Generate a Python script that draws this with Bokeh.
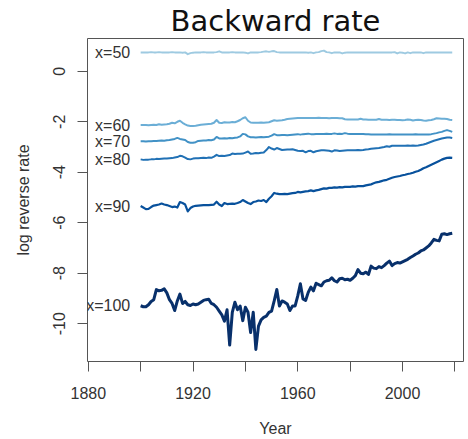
from bokeh.plotting import figure
from bokeh.models import Range1d, FixedTicker, Label
from bokeh.embed import file_html
from bokeh.resources import INLINE

# Calendar years of the series
years = list(range(1900, 2020))

# Log reverse (backward) rate by age x
rate_x50 = [
    0.75, 0.75, 0.75, 0.75, 0.76, 0.75, 0.75, 0.76, 0.75, 0.75,
    0.75, 0.75, 0.76, 0.75, 0.75, 0.75, 0.74, 0.75, 0.68, 0.72,
    0.74, 0.75, 0.75, 0.75, 0.76, 0.75, 0.75, 0.75, 0.75, 0.76,
    0.79, 0.75, 0.75, 0.75, 0.75, 0.76, 0.75, 0.75, 0.75, 0.75,
    0.74, 0.71, 0.75, 0.75, 0.75, 0.75, 0.76, 0.78, 0.79, 0.77,
    0.79, 0.80, 0.76, 0.75, 0.75, 0.75, 0.75, 0.75, 0.75, 0.75,
    0.75, 0.75, 0.75, 0.75, 0.74, 0.75, 0.72, 0.75, 0.76, 0.80,
    0.82, 0.76, 0.75, 0.72, 0.75, 0.75, 0.75, 0.71, 0.74, 0.75,
    0.75, 0.75, 0.75, 0.75, 0.75, 0.75, 0.75, 0.75, 0.75, 0.75,
    0.75, 0.75, 0.75, 0.75, 0.75, 0.75, 0.75, 0.76, 0.71, 0.75,
    0.74, 0.71, 0.75, 0.72, 0.75, 0.75, 0.75, 0.75, 0.72, 0.75,
    0.75, 0.75, 0.75, 0.75, 0.75, 0.75, 0.75, 0.75, 0.75, 0.75,
]
rate_x60 = [
    -2.13, -2.13, -2.13, -2.14, -2.13, -2.12, -2.13, -2.10, -2.12, -2.11,
    -2.10, -2.08, -2.04, -2.06, -2.00, -1.96, -2.04, -2.10, -2.15, -2.17,
    -2.17, -2.16, -2.14, -2.12, -2.11, -2.10, -2.09, -2.08, -2.04, -1.93,
    -2.04, -2.05, -2.02, -2.03, -2.03, -2.01, -2.02, -1.98, -1.93, -1.86,
    -1.82, -1.96, -2.03, -2.04, -2.04, -2.04, -2.03, -2.04, -2.03, -2.02,
    -1.98, -1.94, -1.96, -1.95, -1.94, -1.92, -1.89, -1.88, -1.87, -1.86,
    -1.85, -1.85, -1.85, -1.85, -1.85, -1.85, -1.85, -1.85, -1.84, -1.85,
    -1.85, -1.85, -1.86, -1.85, -1.85, -1.85, -1.86, -1.86, -1.90, -1.91,
    -1.91, -1.91, -1.91, -1.91, -1.88, -1.91, -1.91, -1.92, -1.92, -1.92,
    -1.92, -1.89, -1.92, -1.92, -1.92, -1.93, -1.92, -1.92, -1.93, -1.93,
    -1.94, -1.93, -1.91, -1.92, -1.95, -1.93, -1.92, -1.93, -1.95, -1.96,
    -1.94, -1.93, -1.90, -1.86, -1.87, -1.88, -1.88, -1.89, -1.92, -1.93,
]
rate_x70 = [
    -2.77, -2.77, -2.78, -2.77, -2.77, -2.76, -2.76, -2.75, -2.74, -2.75,
    -2.73, -2.72, -2.70, -2.68, -2.64, -2.68, -2.70, -2.72, -2.80, -2.83,
    -2.83, -2.81, -2.76, -2.75, -2.74, -2.74, -2.72, -2.73, -2.70, -2.60,
    -2.66, -2.66, -2.65, -2.66, -2.64, -2.65, -2.63, -2.62, -2.58, -2.48,
    -2.50, -2.58, -2.61, -2.61, -2.62, -2.61, -2.60, -2.61, -2.60, -2.59,
    -2.55, -2.49, -2.53, -2.53, -2.52, -2.52, -2.53, -2.52, -2.51, -2.50,
    -2.49, -2.51, -2.49, -2.48, -2.47, -2.49, -2.49, -2.48, -2.48, -2.48,
    -2.48, -2.47, -2.48, -2.48, -2.46, -2.48, -2.47, -2.48, -2.45, -2.47,
    -2.48, -2.48, -2.48, -2.48, -2.48, -2.48, -2.49, -2.49, -2.50, -2.50,
    -2.50, -2.50, -2.50, -2.50, -2.50, -2.49, -2.50, -2.50, -2.50, -2.50,
    -2.50, -2.50, -2.50, -2.50, -2.50, -2.49, -2.50, -2.50, -2.50, -2.50,
    -2.50, -2.49, -2.47, -2.45, -2.42, -2.40, -2.36, -2.33, -2.36, -2.40,
]
rate_x80 = [
    -3.49, -3.51, -3.50, -3.50, -3.49, -3.49, -3.47, -3.48, -3.47, -3.46,
    -3.46, -3.45, -3.44, -3.42, -3.40, -3.35, -3.37, -3.42, -3.48, -3.49,
    -3.46, -3.45, -3.45, -3.44, -3.43, -3.44, -3.42, -3.43, -3.38, -3.31,
    -3.36, -3.35, -3.36, -3.34, -3.32, -3.26, -3.28, -3.27, -3.27, -3.26,
    -3.22, -3.18, -3.27, -3.26, -3.24, -3.25, -3.23, -3.22, -3.12, -3.00,
    -3.06, -3.10, -3.04, -3.08, -3.12, -3.11, -3.10, -3.10, -3.09, -3.12,
    -3.15, -3.16, -3.15, -3.21, -3.16, -3.15, -3.21, -3.17, -3.15, -3.13,
    -3.13, -3.14, -3.15, -3.18, -3.13, -3.14, -3.16, -3.15, -3.14, -3.13,
    -3.13, -3.13, -3.13, -3.12, -3.13, -3.12, -3.10, -3.09, -3.07, -3.06,
    -3.05, -3.04, -3.02, -3.00, -2.97, -2.99, -2.95, -2.95, -2.95, -2.95,
    -2.95, -2.95, -2.94, -2.95, -2.94, -2.95, -2.94, -2.92, -2.90, -2.87,
    -2.83, -2.79, -2.75, -2.72, -2.69, -2.66, -2.64, -2.62, -2.62, -2.64,
]
rate_x90 = [
    -5.34, -5.40, -5.46, -5.45, -5.38, -5.32, -5.30, -5.28, -5.24, -5.28,
    -5.30, -5.34, -5.38, -5.36, -5.40, -5.18, -5.22, -5.28, -5.55, -5.42,
    -5.36, -5.33, -5.32, -5.31, -5.30, -5.30, -5.30, -5.29, -5.28, -5.17,
    -5.28, -5.34, -5.22, -5.26, -5.25, -5.24, -5.25, -5.22, -5.18, -5.10,
    -5.16, -5.22, -5.26, -5.18, -5.16, -5.12, -5.14, -5.10, -5.18, -5.05,
    -4.95, -4.82, -4.85, -4.87, -4.87, -4.86, -4.87, -4.85, -4.83, -4.82,
    -4.78, -4.80, -4.78, -4.76, -4.75, -4.72, -4.75, -4.72, -4.70, -4.67,
    -4.64, -4.65, -4.62, -4.62, -4.60, -4.61, -4.59, -4.60, -4.58, -4.58,
    -4.58, -4.56, -4.57, -4.55, -4.55, -4.55, -4.52, -4.50, -4.48, -4.44,
    -4.40, -4.38, -4.35, -4.32, -4.30, -4.26, -4.22, -4.19, -4.17, -4.15,
    -4.12, -4.10, -4.07, -4.05, -4.02, -3.98, -3.95, -3.90, -3.84, -3.80,
    -3.75, -3.70, -3.65, -3.60, -3.55, -3.50, -3.46, -3.43, -3.42, -3.43,
]
rate_x100 = [
    -9.29, -9.33, -9.33, -9.25, -9.12, -9.05, -8.65, -8.70, -8.68, -8.62,
    -8.78, -9.05, -9.20, -9.48, -9.10, -8.83, -9.20, -9.12, -9.25, -9.28,
    -9.22, -9.25, -9.22, -9.15, -9.08, -9.05, -9.03, -9.20, -9.25, -9.35,
    -9.50, -9.65, -9.90, -9.45, -10.85, -9.55, -9.15, -9.45, -9.30, -9.88,
    -9.35, -9.55, -10.35, -9.55, -11.02, -10.10, -9.85, -9.75, -9.70, -9.55,
    -9.50, -9.10, -8.65, -9.30, -9.10, -9.15, -9.22, -9.48, -9.30, -9.30,
    -8.90, -8.42, -9.02, -9.08, -8.76, -8.55, -8.70, -8.40, -8.45, -8.50,
    -8.35, -8.30, -8.28, -8.18, -8.30, -8.35, -8.22, -8.20, -8.26, -8.24,
    -8.28, -8.20, -8.10, -7.86, -8.00, -8.02, -7.96, -8.05, -7.72, -7.80,
    -7.82, -7.74, -7.78, -7.70, -7.60, -7.52, -7.70, -7.62, -7.58, -7.60,
    -7.55, -7.50, -7.45, -7.38, -7.32, -7.25, -7.20, -7.12, -7.08, -7.00,
    -6.92, -6.80, -6.66, -6.70, -6.72, -6.46, -6.44, -6.47, -6.44, -6.42,
]

series_labels = ["x=50", "x=60", "x=70", "x=80", "x=90", "x=100"]
series_values = [rate_x50, rate_x60, rate_x70, rate_x80, rate_x90, rate_x100]
series_colors = ["#9ecae1", "#6baed6", "#4292c6", "#2171b5", "#08519c", "#08306b"]
series_widths = [2, 2, 2, 2, 2.2, 3]

x_ticks = [1880, 1900, 1920, 1940, 1960, 1980, 2000, 2020]
x_tick_text = ["1880", "", "1920", "", "1960", "", "2000", ""]
y_ticks = [0, -2, -4, -6, -8, -10]
y_tick_text = ["0", "-2", "-4", "-6", "-8", "-10"]

FONT = "Liberation Sans"
INK = "#333333"
FRAME = "#555555"

p = figure(
    width=468, height=439,
    x_range=Range1d(1879.7, 2023.3), y_range=Range1d(-11.5, 1.3),
    output_backend="svg", toolbar_location=None,
    min_border_left=87, min_border_right=5, min_border_top=37, min_border_bottom=78,
    background_fill_color="white", border_fill_color="white",
    title="Backward rate",
)
p.grid.visible = False
p.outline_line_color = FRAME
p.outline_line_width = 1

p.title.text_font = "DejaVu Sans"
p.title.text_font_size = "29px"
p.title.text_font_style = "normal"
p.title.text_color = "#111111"
p.title.align = "center"
p.title.offset = -28
p.title.standoff = 2

for ax in (p.xaxis, p.yaxis):
    ax.axis_line_color = None
    ax.major_tick_line_color = FRAME
    ax.major_tick_out = 10
    ax.major_tick_in = 0
    ax.minor_tick_line_color = None
    ax.major_label_text_font = FONT
    ax.major_label_text_font_size = "16px"
    ax.major_label_text_color = INK
    ax.axis_label_text_font = FONT
    ax.axis_label_text_font_size = "16px"
    ax.axis_label_text_color = INK
    ax.axis_label_text_font_style = "normal"

p.xaxis.ticker = FixedTicker(ticks=x_ticks)
p.xaxis.major_label_overrides = {t: s for t, s in zip(x_ticks, x_tick_text)}
p.xaxis.major_label_standoff = 15
p.xaxis.axis_label = "Year"
p.xaxis.axis_label_standoff = 18

# Tick texts on the left run bottom-to-top, centred on their ticks
p.yaxis.ticker = FixedTicker(ticks=y_ticks)
p.yaxis.major_label_overrides = {t: s for t, s in zip(y_ticks, y_tick_text)}
p.yaxis.major_label_orientation = "vertical"
p.yaxis.major_label_standoff = 12
p.yaxis.axis_label = "log reverse rate"
p.yaxis.axis_label_standoff = 19

for name, vals, col, lw in zip(series_labels, series_values, series_colors, series_widths):
    p.line(years, vals, line_color=col, line_width=lw, line_join="round")
    p.add_layout(Label(
        x=1896, y=vals[0], text=name, text_align="right", text_baseline="middle",
        text_font=FONT, text_font_size="16px", text_color=INK,
    ))

open("out.html", "w").write(file_html(p, INLINE))
